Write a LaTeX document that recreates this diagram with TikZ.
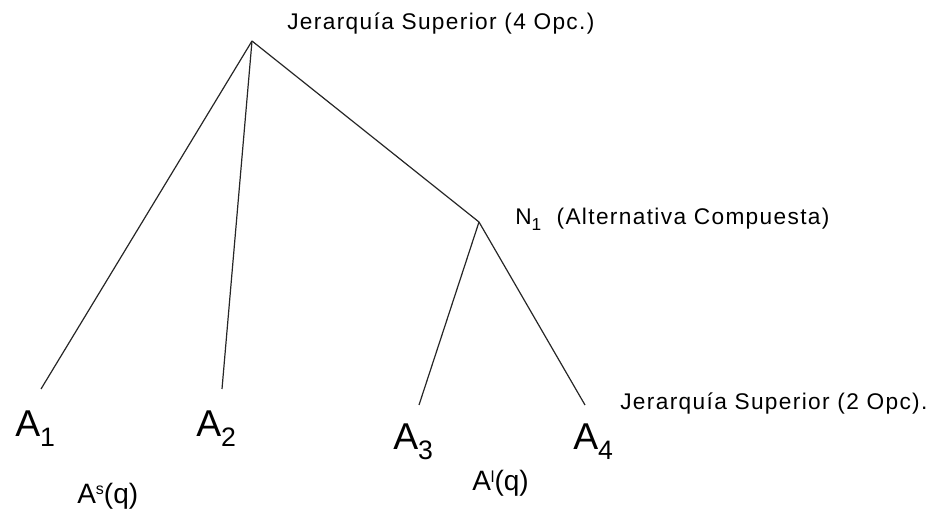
\documentclass[tikz,border=0pt]{standalone}
\usepackage{fontspec}
\setmainfont{Liberation Sans}
\usepackage{tikz}
\usetikzlibrary{positioning}
\newcommand{\altsub}[1]{\raisebox{-7.5pt}{\fontsize{20}{20}\selectfont #1}}
\newcommand{\probsup}[1]{\raisebox{6pt}{\fontsize{12}{12}\selectfont #1}}
\begin{document}
\begin{tikzpicture}[
  x=0.75pt, y=-0.75pt,
  branch/.style={line width=0.9pt, draw=black!85},
  alt/.style={inner sep=0pt, anchor=base west, font=\fontsize{28}{30}\selectfont},
  tag/.style={inner sep=0pt, anchor=base west, font=\fontsize{17}{20}\selectfont\addfontfeature{LetterSpace=6}},
  prob/.style={inner sep=0pt, anchor=base west, font=\fontsize{21}{24}\selectfont}
]
\useasboundingbox (0,0) rectangle (943,513);

% Junctions of the tree
\coordinate (top) at (252,41);
\coordinate (n1) at (479,222);

% Free ends above the alternatives
\coordinate (a1end) at (41,389);
\coordinate (a2end) at (222,389);
\coordinate (a3end) at (419,405);
\coordinate (a4end) at (585,405);

% Branches
\draw[branch] (top) -- (a1end);
\draw[branch] (top) -- (a2end);
\draw[branch] (top) -- (n1);
\draw[branch] (n1) -- (a3end);
\draw[branch] (n1) -- (a4end);

% Alternatives
\node[alt] (a1) at (15,436) {A\altsub{1}};
\node[alt] (a2) at (196,436) {A\altsub{2}};
\node[alt] (a3) at (393,450) {A\altsub{3}};
\node[alt] (a4) at (573,450) {A\altsub{4}};

% Level labels
\node[tag] (sup4) at (287,30) {Jerarquía Superior (4 Opc.)};
\node[tag] (comp) at (515,225) {N\raisebox{-4pt}{\fontsize{13}{13}\selectfont 1}\ \ (Alternativa Compuesta)};
\node[tag] (sup2) at (620,410) {Jerarquía Superior (2 Opc).};

% Probabilities
\node[prob] (ps) at (77,503) {A\probsup{s}(q)};
\node[prob] (pl) at (472,490) {A\probsup{l}(q)};

\end{tikzpicture}
\end{document}
